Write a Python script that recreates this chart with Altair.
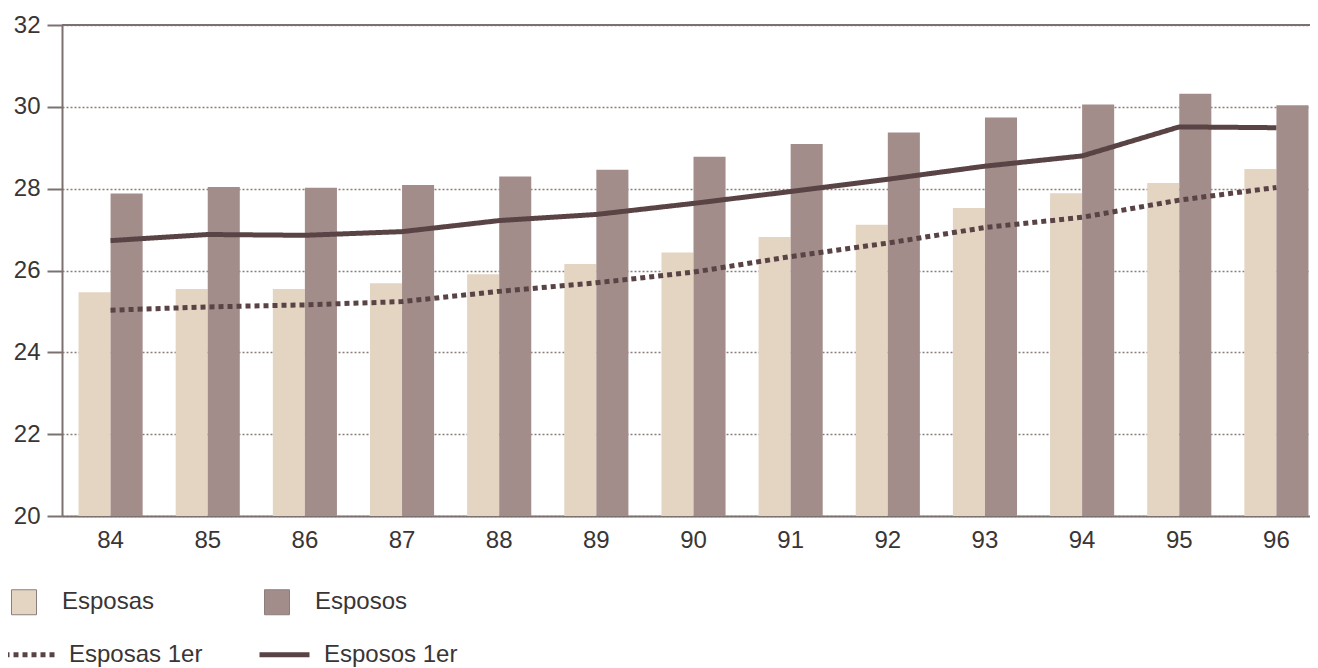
import altair as alt
import pandas as pd

years = ["84", "85", "86", "87", "88", "89", "90", "91", "92", "93", "94", "95", "96"]
esposas = [25.47, 25.55, 25.55, 25.69, 25.91, 26.16, 26.44, 26.82, 27.12, 27.53, 27.89, 28.14, 28.48]
esposos = [27.88, 28.04, 28.02, 28.09, 28.30, 28.46, 28.78, 29.09, 29.37, 29.74, 30.06, 30.32, 30.04]
esposas_1er = [25.03, 25.11, 25.16, 25.24, 25.49, 25.70, 25.96, 26.34, 26.67, 27.05, 27.30, 27.72, 28.03]
esposos_1er = [26.73, 26.88, 26.86, 26.95, 27.22, 27.37, 27.64, 27.93, 28.23, 28.55, 28.80, 29.51, 29.49]
y_ticks = [20, 22, 24, 26, 28, 30, 32]

bar_series = ["Esposas", "Esposos"]
line_series = ["Esposas 1er", "Esposos 1er"]

bars_df = pd.DataFrame({
    "year": years * 2,
    "serie": [bar_series[0]] * len(years) + [bar_series[1]] * len(years),
    "edad": esposas + esposos,
})
lines_df = pd.DataFrame({
    "year": years * 2,
    "serie": [line_series[0]] * len(years) + [line_series[1]] * len(years),
    "edad": esposas_1er + esposos_1er,
})
top_df = pd.DataFrame({"edad": [y_ticks[-1]]})

FONT = "Liberation Sans"
AXIS_C = "#7b7270"
TEXT_C = "#3a3535"
LINE_C = "#5a4345"

xscale = alt.Scale(paddingInner=0.34, paddingOuter=0.17)
yscale = alt.Scale(domain=[20, 32], nice=False, zero=False)

x_axis = alt.Axis(title=None, labelAngle=0, ticks=False, domainColor=AXIS_C, domainWidth=2,
                  labelPadding=12, labelFontSize=24, labelFont=FONT, labelColor=TEXT_C, grid=False)
y_axis = alt.Axis(title=None, values=y_ticks, tickSize=15, tickWidth=2, tickColor=AXIS_C,
                  domainColor=AXIS_C, domainWidth=2, labelFontSize=24, labelFont=FONT,
                  labelColor=TEXT_C, labelPadding=7, grid=True, gridDash=[2, 2],
                  gridColor="#8a7e7c", gridWidth=1.5)

bars = alt.Chart(bars_df).mark_bar().encode(
    x=alt.X("year:N", sort=years, scale=xscale, axis=x_axis),
    xOffset=alt.XOffset("serie:N", sort=bar_series, scale=alt.Scale(paddingInner=0, paddingOuter=0)),
    y=alt.Y("edad:Q", scale=yscale, axis=y_axis),
    y2=alt.datum(20),
    fill=alt.Fill("serie:N", sort=bar_series,
                  scale=alt.Scale(domain=bar_series, range=["#e4d5c3", "#a38d8b"]),
                  legend=alt.Legend(title=None, orient="none", legendX=-51, legendY=564,
                                    direction="horizontal", symbolType="square", symbolSize=625,
                                    symbolStrokeColor="#8c7f7b", symbolStrokeWidth=1,
                                    labelOffset=25, columnPadding=107, labelFontSize=24,
                                    labelFont=FONT, labelColor=TEXT_C)),
)

lines = alt.Chart(lines_df).mark_line(color=LINE_C, strokeWidth=5, strokeCap="butt").encode(
    x=alt.X("year:N", sort=years, scale=xscale, axis=x_axis),
    y=alt.Y("edad:Q", scale=yscale, axis=y_axis),
    strokeDash=alt.StrokeDash("serie:N", sort=line_series,
                              scale=alt.Scale(domain=line_series, range=[[5, 4], [1, 0]]),
                              legend=alt.Legend(title=None, orient="none", legendX=-60, legendY=602,
                                                direction="horizontal", symbolType="stroke",
                                                symbolSize=2500, symbolStrokeWidth=5,
                                                symbolStrokeColor=LINE_C, labelOffset=12,
                                                columnPadding=46, labelFontSize=24,
                                                labelFont=FONT, labelColor=TEXT_C)),
)

top_rule = alt.Chart(top_df).mark_rule(color=AXIS_C, strokeWidth=2).encode(
    y=alt.Y("edad:Q", scale=yscale)
)

chart = alt.layer(bars, lines, top_rule).properties(
    width=1263, height=491,
    padding={"left": 54, "top": 17, "right": -15, "bottom": 152},
    autosize=alt.AutoSizeParams(type="none"),
    background="white",
).configure_view(stroke=None)

chart.save("out.html", embed_options={"renderer": "svg", "actions": False})
